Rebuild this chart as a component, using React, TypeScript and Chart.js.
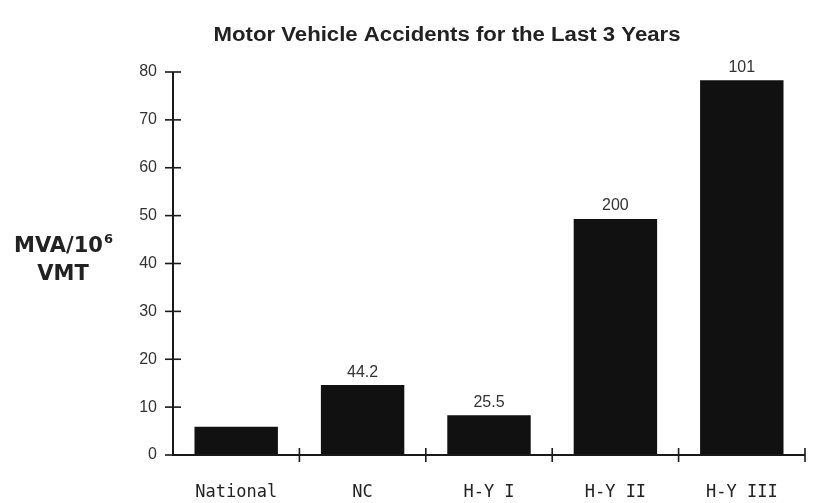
import React, { useEffect, useRef } from "react";
import { Chart, registerables } from "chart.js";

Chart.register(...registerables);

const categories = ["National", "NC", "H-Y I", "H-Y II", "H-Y III"];
const values = [5.9, 14.6, 8.3, 49.3, 78.3];
const barLabels = ["", "44.2", "25.5", "200", "101"];
const yTicks = [0, 10, 20, 30, 40, 50, 60, 70, 80];
const titleText = "Motor Vehicle Accidents for the Last 3 Years";
const yLabelLine1 = "MVA/10";
const yLabelSup = "6";
const yLabelLine2 = "VMT";

const INK = "#1a1a1a";

const decorPlugin = {
  id: "decor",
  afterDatasetsDraw(chart: any) {
    const ctx = chart.ctx;
    const x = chart.scales.x;
    const y = chart.scales.y;
    const ca = chart.chartArea;
    ctx.save();
    // data labels
    ctx.fillStyle = "#333";
    ctx.font = "16px 'Liberation Sans', Arial, sans-serif";
    ctx.textAlign = "center";
    ctx.textBaseline = "bottom";
    const meta = chart.getDatasetMeta(0);
    meta.data.forEach((bar: any, i: number) => {
      if (barLabels[i]) ctx.fillText(barLabels[i], bar.x, bar.y - 5);
    });
    // axes
    ctx.strokeStyle = INK;
    ctx.lineWidth = 2;
    const y0 = y.getPixelForValue(0);
    const yTop = y.getPixelForValue(80);
    ctx.beginPath();
    ctx.moveTo(ca.left, yTop);
    ctx.lineTo(ca.left, y0);
    ctx.lineTo(ca.right, y0);
    ctx.stroke();
    ctx.lineWidth = 1.6;
    yTicks.forEach((v) => {
      const py = y.getPixelForValue(v);
      ctx.beginPath();
      ctx.moveTo(ca.left - 8, py);
      ctx.lineTo(ca.left + 8, py);
      ctx.stroke();
    });
    const n = categories.length;
    const half = (x.getPixelForValue(1) - x.getPixelForValue(0)) / 2;
    for (let i = 1; i <= n; i++) {
      const px = x.getPixelForValue(i - 1) + half;
      ctx.beginPath();
      ctx.moveTo(px, y0 - 7);
      ctx.lineTo(px, y0 + 7);
      ctx.stroke();
    }
    // title (slightly widened glyphs)
    ctx.fillStyle = "#222";
    ctx.font = "bold 20px 'Liberation Sans', Arial, sans-serif";
    ctx.textAlign = "center";
    ctx.textBaseline = "alphabetic";
    const tw = ctx.measureText(titleText).width;
    const sx = 467 / tw;
    ctx.save();
    ctx.translate(447, 41);
    ctx.scale(sx, 1);
    ctx.fillText(titleText, 0, 0);
    ctx.restore();
    // y label
    ctx.font = "bold 21px 'DejaVu Sans', sans-serif";
    ctx.textAlign = "left";
    ctx.textBaseline = "alphabetic";
    const w1 = ctx.measureText(yLabelLine1).width;
    ctx.font = "bold 13px 'DejaVu Sans', sans-serif";
    const ws = ctx.measureText(yLabelSup).width;
    const total = w1 + ws;
    const cx = 63;
    const startX = cx - total / 2;
    ctx.font = "bold 21px 'DejaVu Sans', sans-serif";
    ctx.fillText(yLabelLine1, startX, 252);
    ctx.font = "bold 13px 'DejaVu Sans', sans-serif";
    ctx.fillText(yLabelSup, startX + w1 + 1, 243);
    ctx.font = "bold 21px 'DejaVu Sans', sans-serif";
    ctx.textAlign = "center";
    ctx.fillText(yLabelLine2, cx, 280);
    ctx.restore();
  },
};

export default function App() {
  const ref = useRef<HTMLCanvasElement | null>(null);
  useEffect(() => {
    if (!ref.current) return;
    const chart = new Chart(ref.current, {
      type: "bar",
      data: {
        labels: categories,
        datasets: [
          {
            data: values,
            backgroundColor: "#111111",
            borderWidth: 0,
            barPercentage: 0.66,
            categoryPercentage: 1,
          },
        ],
      },
      options: {
        animation: false,
        responsive: false,
        maintainAspectRatio: false,
        layout: { padding: { top: 72, right: 16, left: 0, bottom: 0 } },
        plugins: {
          legend: { display: false },
          title: { display: false },
          tooltip: { enabled: false },
        },
        scales: {
          x: {
            grid: { display: false, drawTicks: false },
            border: { display: false },
            ticks: {
              color: "#222",
              padding: 27,
              font: { family: "'DejaVu Sans Mono', monospace", size: 17 },
              maxRotation: 0,
            },
            afterFit: (s: any) => {
              s.height = 48;
            },
          },
          y: {
            min: 0,
            max: 80,
            grid: { display: false, drawTicks: false },
            border: { display: false },
            ticks: {
              stepSize: 10,
              color: "#333",
              padding: 16,
              font: { family: "'Liberation Sans', Arial, sans-serif", size: 16 },
            },
            afterFit: (s: any) => {
              s.width = 173;
            },
          },
        },
      } as any,
      plugins: [decorPlugin],
    });
    return () => chart.destroy();
  }, []);
  return (
    <div style={{ position: "fixed", left: 0, top: 0, width: 821, height: 503, background: "#fff" }}>
      <canvas ref={ref} width={821} height={503} style={{ display: "block" }} />
    </div>
  );
}
